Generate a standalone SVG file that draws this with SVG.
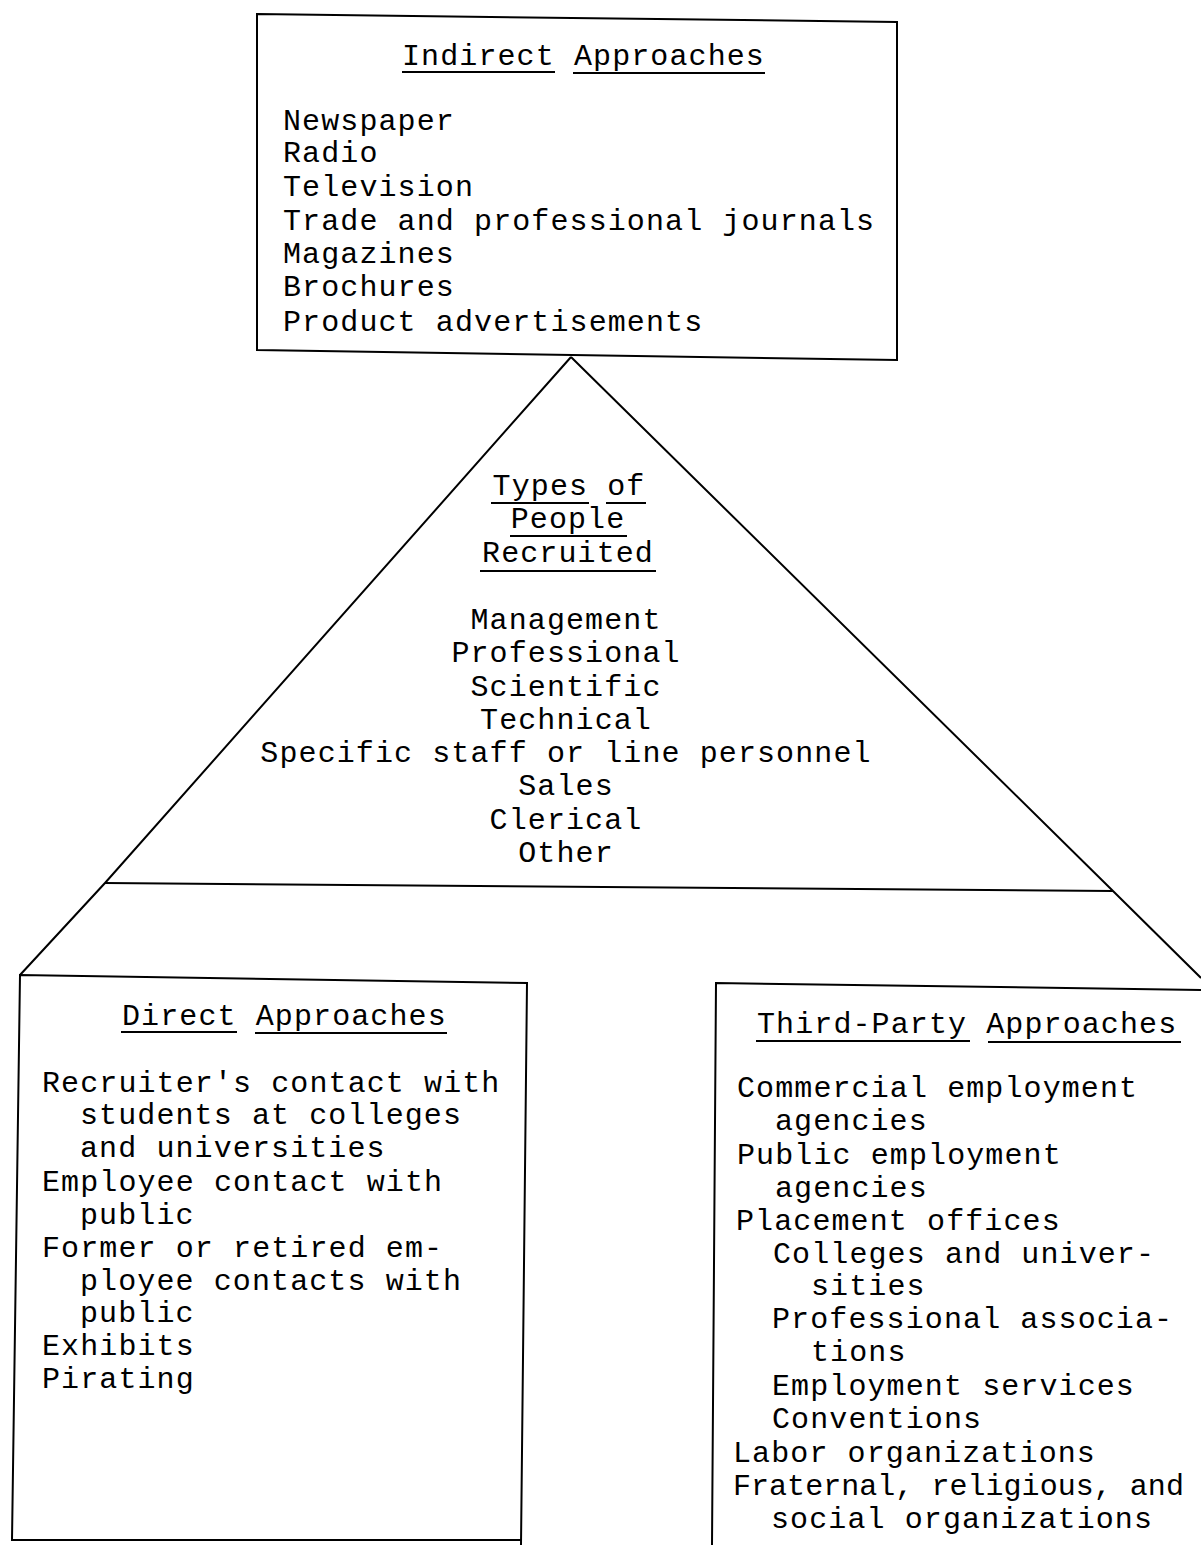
<svg xmlns="http://www.w3.org/2000/svg" width="1201" height="1545" viewBox="0 0 1201 1545">
<style>
text{font-family:"Liberation Mono","Courier New",monospace;font-size:30px;letter-spacing:1.1px;fill:#000}
.c{text-anchor:middle}
.ln{stroke:#000;stroke-width:2;fill:none}
.u{stroke:#000;stroke-width:2}
</style>
<rect width="1201" height="1545" fill="#fff"/>
<g id="connectors">
<path class="ln" d="M571 357 L105 883 L20 975"/>
<path class="ln" d="M571 357 L1113 891 L1201 978"/>
<path class="ln" d="M105 883 L1113 891"/>
</g>
<g id="indirect">
<path class="ln" d="M257 14 L897 22 L897 360 L257 350 Z"/>
<text x="402" y="65">Indirect Approaches</text>
<line class="u" x1="402" y1="72" x2="555" y2="72"/>
<line class="u" x1="573" y1="73" x2="765" y2="73"/>
<text x="283" y="130">Newspaper</text>
<text x="283" y="162">Radio</text>
<text x="283" y="196">Television</text>
<text x="283" y="230">Trade and professional journals</text>
<text x="283" y="263">Magazines</text>
<text x="283" y="296">Brochures</text>
<text x="283" y="331">Product advertisements</text>
</g>
<g id="types">
<text class="c" x="569" y="495">Types of</text>
<line class="u" x1="491" y1="503" x2="589" y2="503"/>
<line class="u" x1="606" y1="503" x2="646" y2="503"/>
<text class="c" x="568" y="528">People</text>
<line class="u" x1="510" y1="536" x2="627" y2="536"/>
<text class="c" x="568" y="562">Recruited</text>
<line class="u" x1="480" y1="571" x2="656" y2="571"/>
<text class="c" x="566" y="629">Management</text>
<text class="c" x="566" y="662">Professional</text>
<text class="c" x="566" y="696">Scientific</text>
<text class="c" x="566" y="729">Technical</text>
<text class="c" x="566" y="762">Specific staff or line personnel</text>
<text class="c" x="566" y="795">Sales</text>
<text class="c" x="566" y="829">Clerical</text>
<text class="c" x="566" y="862">Other</text>
</g>
<g id="direct">
<path class="ln" d="M521 1545 L527 983 L20 975 L12 1540 L521 1540"/>
<text x="122" y="1025">Direct Approaches</text>
<line class="u" x1="121" y1="1032" x2="237" y2="1032"/>
<line class="u" x1="255" y1="1033" x2="447" y2="1033"/>
<text x="42" y="1092">Recruiter's contact with</text>
<text x="80" y="1124">students at colleges</text>
<text x="80" y="1157">and universities</text>
<text x="42" y="1191">Employee contact with</text>
<text x="80" y="1224">public</text>
<text x="42" y="1257">Former or retired em-</text>
<text x="80" y="1290">ployee contacts with</text>
<text x="80" y="1322">public</text>
<text x="42" y="1355">Exhibits</text>
<text x="42" y="1388">Pirating</text>
</g>
<g id="thirdparty">
<path class="ln" d="M712 1545 L716 983 L1201 990"/>
<text x="757" y="1033">Third-Party Approaches</text>
<line class="u" x1="756" y1="1041" x2="970" y2="1041"/>
<line class="u" x1="988" y1="1042" x2="1181" y2="1042"/>
<text x="737" y="1097">Commercial employment</text>
<text x="775" y="1130">agencies</text>
<text x="737" y="1164">Public employment</text>
<text x="775" y="1197">agencies</text>
<text x="736" y="1230">Placement offices</text>
<text x="773" y="1263">Colleges and univer-</text>
<text x="811" y="1295">sities</text>
<text x="772" y="1328">Professional associa-</text>
<text x="811" y="1361">tions</text>
<text x="772" y="1395">Employment services</text>
<text x="772" y="1428">Conventions</text>
<text x="733" y="1462">Labor organizations</text>
<text x="733" y="1495" textLength="452" lengthAdjust="spacing">Fraternal, religious, and</text>
<text x="771" y="1528">social organizations</text>
</g>
</svg>
